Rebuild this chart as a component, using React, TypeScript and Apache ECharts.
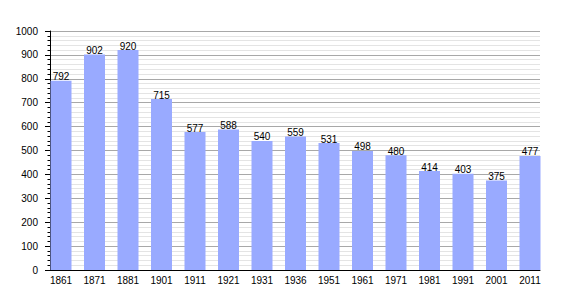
import React, { useEffect, useRef } from "react";
import * as echarts from "echarts";

const years = ["1861", "1871", "1881", "1901", "1911", "1921", "1931", "1936", "1951", "1961", "1971", "1981", "1991", "2001", "2011"];
const population = [792, 902, 920, 715, 577, 588, 540, 559, 531, 498, 480, 414, 403, 375, 477];
const yMin = 0;
const yMax = 1000;
const yStep = 100;

const FONT = "'Liberation Sans', Arial, sans-serif";

export default function App() {
  const ref = useRef<HTMLDivElement>(null);
  useEffect(() => {
    if (!ref.current) return;
    const chart = echarts.init(ref.current, undefined, { renderer: "svg" });
    chart.setOption({
      animation: false,
      backgroundColor: "#ffffff",
      textStyle: { fontFamily: FONT },
      grid: [
        { left: 61, right: 40, top: 31, bottom: 30 },
        { left: 50, right: 30, top: 31, bottom: 30 },
      ],
      xAxis: [
        {
          type: "category",
          gridIndex: 0,
          data: years,
          boundaryGap: false,
          axisLine: { show: false },
          axisTick: { show: false },
          axisLabel: { color: "#000", fontSize: 10, fontFamily: FONT, margin: 5, interval: 0 },
          splitLine: { show: false },
        },
        {
          type: "value",
          gridIndex: 1,
          min: 0,
          max: 1,
          axisLine: { show: true, lineStyle: { color: "#000", width: 1 } },
          axisTick: { show: false },
          axisLabel: { show: false },
          splitLine: { show: false },
        },
      ],
      yAxis: [
        {
          type: "value",
          gridIndex: 0,
          min: yMin,
          max: yMax,
          show: false,
        },
        {
          type: "value",
          gridIndex: 1,
          min: yMin,
          max: yMax,
          interval: yStep,
          position: "left",
          axisLine: { show: true, lineStyle: { color: "#000", width: 1 } },
          axisTick: { show: true, length: 5, lineStyle: { color: "#000" } },
          axisLabel: {
            color: "#000",
            fontSize: 10,
            fontFamily: FONT,
            margin: 12,
            formatter: (v: number) => String(v),
          },
          splitLine: { show: true, lineStyle: { color: "#a8a8a8", width: 1 } },
          minorTick: { show: true, splitNumber: 5, length: 2.5, lineStyle: { color: "#000" } },
          minorSplitLine: { show: true, lineStyle: { color: "#e4e4e4", width: 1 } },
        },
      ],
      series: [
        {
          type: "bar",
          xAxisIndex: 0,
          yAxisIndex: 0,
          data: population,
          barWidth: 21,
          clip: false,
          itemStyle: { color: "#99aaff" },
          label: {
            show: true,
            position: "top",
            distance: -1,
            color: "#000",
            fontSize: 10,
            fontFamily: FONT,
          },
          z: 2,
        },
      ],
    });
    return () => chart.dispose();
  }, []);
  return <div ref={ref} style={{ position: "fixed", left: 0, top: 0, width: 570, height: 300 }} />;
}
